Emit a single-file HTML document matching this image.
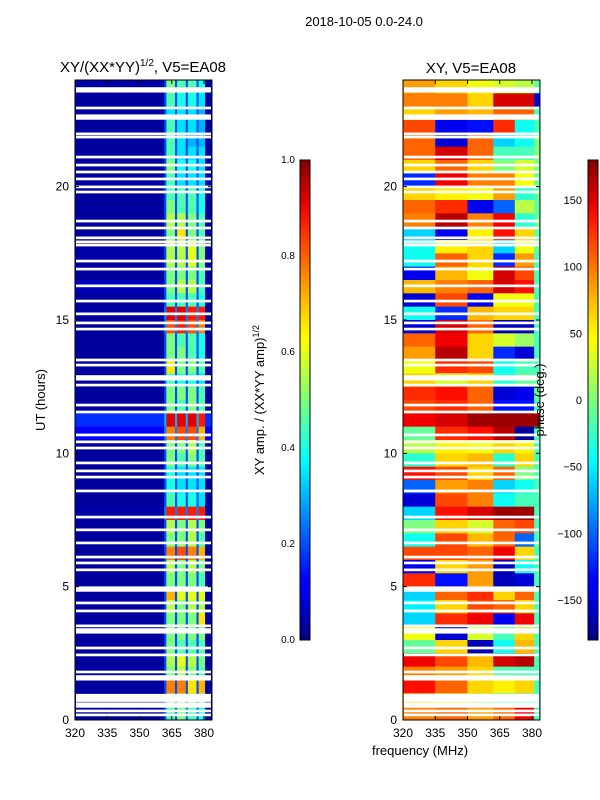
<!DOCTYPE html>
<html><head><meta charset="utf-8"><style>
body{margin:0;background:#fff;}
svg{display:block;font-family:"Liberation Sans",sans-serif;}
</style></head><body>
<svg id="fig" width="600" height="800" viewBox="0 0 600 800">
<defs>
<linearGradient id="jet" x1="0" y1="1" x2="0" y2="0">
<stop offset="0" stop-color="#00007f"/><stop offset="0.11" stop-color="#0000ff"/><stop offset="0.125" stop-color="#0000ff"/><stop offset="0.34" stop-color="#00ddff"/><stop offset="0.375" stop-color="#00ffff"/><stop offset="0.5" stop-color="#7dff7a"/><stop offset="0.625" stop-color="#ffff00"/><stop offset="0.66" stop-color="#ffe600"/><stop offset="0.875" stop-color="#ff1800"/><stop offset="0.91" stop-color="#e50000"/><stop offset="1" stop-color="#7f0000"/>
</linearGradient>
</defs>
<text x="364" y="26" font-size="13" text-anchor="middle">2018-10-05 0.0-24.0</text>
<text x="143" y="72" font-size="15" text-anchor="middle">XY/(XX*YY)<tspan font-size="10" dy="-6">1/2</tspan><tspan dy="6">, V5=EA08</tspan></text>
<text x="471" y="73" font-size="15" text-anchor="middle">XY, V5=EA08</text>
<text transform="translate(45,400) rotate(-90)" font-size="13" text-anchor="middle">UT (hours)</text>
<text x="420" y="755" font-size="13" text-anchor="middle">frequency (MHz)</text>
<g id="leftPlot"></g>
<g id="rightPlot"></g>
<g id="axes"></g>
<rect x="300" y="160" width="10" height="480" fill="url(#jet)" stroke="#000" stroke-width="1"/>
<rect x="588" y="160" width="10" height="480" fill="url(#jet)" stroke="#000" stroke-width="1"/>
<text transform="translate(264,400) rotate(-90)" font-size="13" text-anchor="middle">XY amp. / (XX*YY amp)<tspan font-size="9" dy="-5">1/2</tspan></text>
<text transform="translate(544,400) rotate(-90)" font-size="13" text-anchor="middle">phase (deg.)</text>
</svg>
<script>
// ---- data ----
const hoursTicks = [0,5,10,15,20];
const freqTicks = [320,335,350,365,380];
const ampTicks = [0.0,0.2,0.4,0.6,0.8,1.0];
const phaseTicks = [-150,-100,-50,0,50,100,150];
// amplitude column boundaries (MHz)
const ampEdges = [320,361.5,362.5,366.5,367.5,371.5,372.5,376.5,377.5,380.5,383.7];
// rows top-down (24h -> 0h), half-hour each: [bg, b1, b2, b3, b4, gap]
const ampRows = [
[0.04,0.5,0.45,0.45,0.4,0.2],[0.03,0.45,0.4,0.4,0.35,0.2],[0.03,0.35,0.35,0.35,0.3,0.2],[0.03,0.45,0.35,0.35,0.3,0.2],
[0.03,0.45,0.35,0.3,0.3,0.2],[0.03,0.45,0.35,0.35,0.35,0.2],[0.03,0.5,0.4,0.4,0.35,0.2],[0.03,0.45,0.35,0.35,0.35,0.2],
[0.03,0.45,0.45,0.45,0.4,0.2],[0.03,0.5,0.45,0.45,0.4,0.2],[0.03,0.55,0.55,0.5,0.45,0.2],[0.03,0.5,0.65,0.5,0.45,0.2],
[0.04,0.55,0.55,0.6,0.5,0.2],[0.04,0.55,0.55,0.6,0.5,0.2],[0.03,0.5,0.5,0.5,0.45,0.2],[0.06,0.5,0.55,0.55,0.45,0.2],
[0.03,0.45,0.45,0.45,0.4,0.2],[0.03,0.9,0.9,0.85,0.85,0.25],[0.03,0.8,0.85,0.8,0.75,0.25],[0.03,0.5,0.45,0.45,0.4,0.2],
[0.03,0.5,0.5,0.45,0.4,0.2],[0.03,0.65,0.5,0.5,0.45,0.2],[0.03,0.45,0.4,0.4,0.35,0.2],[0.03,0.5,0.5,0.5,0.45,0.2],
[0.03,0.5,0.45,0.5,0.45,0.2],[0.17,0.9,0.9,0.9,0.85,0.3],[0.12,0.75,0.8,0.8,0.7,0.25],[0.03,0.5,0.5,0.55,0.45,0.2],
[0.03,0.5,0.45,0.5,0.45,0.2],[0.03,0.4,0.35,0.35,0.35,0.2],[0.03,0.4,0.35,0.35,0.35,0.2],[0.03,0.45,0.4,0.4,0.35,0.2],
[0.04,0.85,0.85,0.85,0.85,0.25],[0.03,0.55,0.5,0.55,0.5,0.2],[0.03,0.5,0.5,0.55,0.45,0.2],[0.03,0.75,0.8,0.75,0.7,0.2],
[0.03,0.55,0.5,0.55,0.5,0.2],[0.03,0.5,0.5,0.5,0.45,0.2],[0.03,0.7,0.6,0.6,0.6,0.2],[0.03,0.55,0.5,0.55,0.55,0.2],
[0.03,0.5,0.5,0.5,0.65,0.2],[0.03,0.5,0.5,0.5,0.5,0.2],[0.03,0.5,0.45,0.45,0.45,0.2],[0.03,0.55,0.6,0.55,0.5,0.2],
[0.03,0.5,0.55,0.5,0.45,0.2],[0.03,0.75,0.75,0.65,0.7,0.2],[0.06,0.5,0.55,0.5,0.45,0.2],[0.03,0.45,0.5,0.45,0.4,0.2]
];
// phase column boundaries (MHz)
const phaseEdges = [320,335,350,362,372,381,383.7];
// rows top-down (24h -> 0h), half-hour each, degrees
const phaseRows = [
[80,60,40,30,20,-10],[90,90,60,150,150,-150],[60,80,70,100,100,-20],[110,-140,-130,120,-40,-20],
[100,-150,100,-60,-40,0],[100,150,100,-20,-20,0],[60,100,60,0,30,0],[-120,140,90,90,40,-10],
[60,50,40,80,-30,-10],[100,120,-140,-100,20,-10],[90,160,90,140,-30,-10],[-60,-140,50,130,60,-10],
[-40,50,60,-60,40,-10],[-40,100,60,-120,80,-20],[-140,70,40,150,110,-20],[70,90,100,150,130,-20],
[-150,110,-140,40,40,-20],[-40,-120,70,60,60,-20],[-150,150,100,-160,-160,-20],[100,140,60,30,10,-20],
[80,160,60,-120,-150,-20],[40,120,110,-40,-20,-20],[60,30,60,-30,-10,-10],[120,130,100,-150,-140,-10],
[110,120,100,-130,-130,-20],[140,150,170,170,170,170],[-10,120,130,160,-170,-20],[20,50,40,60,50,-20],
[-30,60,70,-30,60,-20],[130,110,60,100,0,-20],[-100,80,90,-60,-40,-20],[-150,110,90,-40,-20,-20],
[-60,130,150,170,170,-20],[0,60,30,100,110,-20],[-40,110,70,100,-100,-20],[110,110,100,140,60,-20],
[-140,60,80,-160,-40,-20],[120,-130,80,-160,-150,-20],[-60,100,120,60,100,-20],[-50,60,110,100,60,-20],
[-60,120,140,-140,140,-20],[40,-150,30,-20,60,-20],[-10,60,-160,-40,70,-20],[140,110,70,150,160,-20],
[90,80,60,-20,-20,-20],[130,100,60,50,60,-20],[60,40,10,-20,-20,-20],[90,100,80,100,140,-20]
];
// flagged (blank) times in hours, and widths in hours
const flagHours = [23.63,22.95,22.61,21.98,21.86,21.11,20.81,20.55,20.29,19.99,19.8,18.71,18.45,18.08,17.93,17.81,17.21,16.91,16.28,15.71,15.23,14.89,14.66,13.5,13.31,12.83,12.56,11.81,11.55,10.69,10.43,10.2,9.64,9.34,9.11,8.59,7.61,7.13,6.64,6.11,5.89,5.63,4.91,4.39,4.09,3.53,3.34,2.7,2.44,1.8,1.58,0.83,0.56,0.34,0.19];
const flagWidths = [0.2,0.1,0.2,0.1,0.1,0.1,0.1,0.1,0.1,0.1,0.1,0.1,0.1,0.1,0.1,0.1,0.1,0.1,0.1,0.1,0.1,0.1,0.1,0.1,0.1,0.2,0.1,0.1,0.1,0.1,0.1,0.1,0.1,0.1,0.1,0.1,0.1,0.1,0.1,0.1,0.1,0.1,0.2,0.1,0.1,0.1,0.2,0.1,0.1,0.1,0.2,0.3,0.2,0.1,0.1];

// ---- scales ----
const NS='http://www.w3.org/2000/svg';
const PXPM=2.15, TOP=80, BOT=720, HMAX=24;
const yScale = h => BOT - h*(BOT-TOP)/HMAX;
const xLeft = f => 75 + (f-320)*PXPM;
const xRight = f => 403 + (f-320)*PXPM;
const ampY = v => 640 - v*480;
const phaseY = p => 400 - p*480/360;
function jet(v){
  v=Math.max(0,Math.min(1,v));
  const c=x=>Math.round(255*Math.max(0,Math.min(1,x)));
  return `rgb(${c(1.5-Math.abs(4*v-3))},${c(1.5-Math.abs(4*v-2))},${c(1.5-Math.abs(4*v-1))})`;
}
function mk(tag,attrs,parent){const e=document.createElementNS(NS,tag);for(const k in attrs)e.setAttribute(k,attrs[k]);parent.appendChild(e);return e;}

const L=document.getElementById('leftPlot'), R=document.getElementById('rightPlot'), A=document.getElementById('axes');
const rowH=HMAX/ampRows.length;
ampRows.forEach((row,i)=>{
  const h1=HMAX-i*rowH, h0=h1-rowH;
  const vals=[row[0],row[5],row[1],row[5],row[2],row[5],row[3],row[5],row[4],row[0]];
  for(let j=0;j<vals.length;j++){
    const r=mk('rect',{x:xLeft(ampEdges[j]),y:yScale(h1),width:xLeft(ampEdges[j+1])-xLeft(ampEdges[j])+0.3,height:yScale(h0)-yScale(h1)+0.3,fill:jet(vals[j])},L);
    
    
  }
});
phaseRows.forEach((row,i)=>{
  const h1=HMAX-i*rowH, h0=h1-rowH;
  row.forEach((p,j)=>{
    const r=mk('rect',{x:xRight(phaseEdges[j]),y:yScale(h1),width:xRight(phaseEdges[j+1])-xRight(phaseEdges[j])+0.3,height:yScale(h0)-yScale(h1)+0.3,fill:jet((p+180)/360)},R);
    
    
  });
});
flagHours.forEach((h,i)=>{
  [[L,xLeft],[R,xRight]].forEach(([g,xs])=>{
    const r=mk('rect',{x:xs(320)+1,y:yScale(h+flagWidths[i]/2),width:xs(383.7)-xs(320)-2,height:flagWidths[i]*(BOT-TOP)/HMAX,fill:'#fff'},g);
    
    
  });
});
[[xLeft,'left'],[xRight,'right']].forEach(([xs,nm])=>{
  const fr=mk('rect',{x:xs(320),y:TOP,width:xs(383.7)-xs(320),height:BOT-TOP,fill:'none',stroke:'#000','stroke-width':1},A);
  
  
  hoursTicks.forEach(h=>{
    const y=yScale(h);
    mk('line',{x1:xs(320),x2:xs(320)+4,y1:y,y2:y,stroke:'#000'},A);
    mk('line',{x1:xs(383.7),x2:xs(383.7)-4,y1:y,y2:y,stroke:'#000'},A);
    const t=mk('text',{x:xs(320)-6,y:y+4,'font-size':12,'text-anchor':'end'},A);
    t.textContent=h;
    
    
  });
  freqTicks.forEach(f=>{
    const x=xs(f);
    mk('line',{x1:x,x2:x,y1:BOT,y2:BOT-4,stroke:'#000'},A);
    mk('line',{x1:x,x2:x,y1:TOP,y2:TOP+4,stroke:'#000'},A);
    const t=mk('text',{x:x,y:737,'font-size':12,'text-anchor':'middle'},A);
    t.textContent=f;
    
    
  });
});
ampTicks.forEach(v=>{
  const y=ampY(v);
  mk('line',{x1:306,x2:310,y1:y,y2:y,stroke:'#000'},A);
  const t=mk('text',{x:295,y:y+3,'font-size':10,'text-anchor':'end'},A);
  t.textContent=v.toFixed(1);
  
  
});
phaseTicks.forEach(p=>{
  const y=phaseY(p);
  mk('line',{x1:594,x2:598,y1:y,y2:y,stroke:'#000'},A);
  const t=mk('text',{x:582,y:y+4,'font-size':11,'text-anchor':'end'},A);
  t.textContent=p<0?'\u2212'+Math.abs(p):p;
  
  
});
</script>
</body></html>
